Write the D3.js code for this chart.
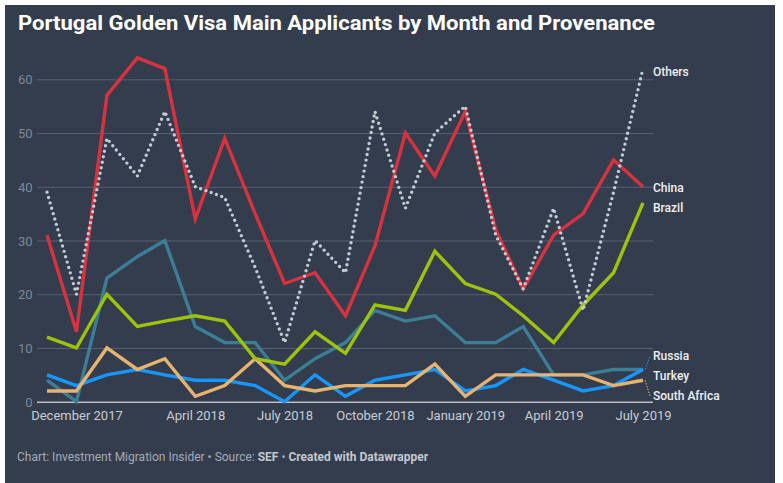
<!DOCTYPE html>
<html>
<head>
<meta charset="utf-8">
<script src="https://cdn.jsdelivr.net/npm/d3@7"></script>
<style>
  html, body { margin: 0; padding: 0; background: #ffffff; }
  svg { display: block; font-family: Roboto, "Noto Sans", sans-serif; }
</style>
</head>
<body>
<svg id="chart" width="783" height="483"></svg>
<script>
// ---------- data ----------
const months = ["2017-11","2017-12","2018-01","2018-02","2018-03","2018-04","2018-05","2018-06","2018-07","2018-08","2018-09","2018-10","2018-11","2018-12","2019-01","2019-02","2019-03","2019-04","2019-05","2019-06","2019-07"];
const seriesNames = ["Turkey","Russia","South Africa","Brazil","China","Others"];
const turkey      = [4,0,23,27,30,14,11,11,4,8,11,17,15,16,11,11,14,5,5,6,6];
const russia      = [5,3,5,6,5,4,4,3,0,5,1,4,5,6,2,3,6,4,2,3,6];
const southAfrica = [2,2,10,6,8,1,3,8,3,2,3,3,3,7,1,5,5,5,5,3,4];
const brazil      = [12,10,20,14,15,16,15,8,7,13,9,18,17,28,22,20,16,11,18,24,37];
const china       = [31,13,57,64,62,34,49,35,22,24,16,29,50,42,54,32,21,31,35,45,40];
const others      = [39,20,49,42,54,40,38,25,11,30,24,54,36,50,55,31,21,36,17,39,62];
const yTicks = [0,10,20,30,40,50,60];
const xTickLabels = ["December 2017","April 2018","July 2018","October 2018","January 2019","April 2019","July 2019"];
const title = "Portugal Golden Visa Main Applicants by Month and Provenance";

// ---------- styles ----------
const colors = {
  "Turkey": "#3b7e95",
  "Russia": "#1896fb",
  "South Africa": "#e6b470",
  "Brazil": "#9ec30b",
  "China": "#d8323f",
  "Others": "#c3ccd4"
};
const values = {
  "Turkey": turkey, "Russia": russia, "South Africa": southAfrica,
  "Brazil": brazil, "China": china, "Others": others
};

const svg = d3.select("#chart");
svg.append("rect").attr("x",5).attr("y",5).attr("width",770).attr("height",478).attr("fill","#333d4e");

const parseMonth = d3.timeParse("%Y-%m");
const parseLabel = d3.timeParse("%B %Y");
const dates = months.map(parseMonth);

const x = d3.scaleTime().domain(d3.extent(dates)).range([47,643]);
const y = d3.scaleLinear().domain([0,60]).range([401.7,79.3]);

// title
const t = svg.append("text").attr("x",18).attr("y",30)
  .attr("fill","#ffffff").attr("font-size",20.5).attr("font-weight",700)
  .text(title);
t.attr("textLength",637).attr("lengthAdjust","spacingAndGlyphs");

// grid + y labels
const gridLeft = 37, gridRight = 653;
const yAxis = d3.axisLeft(y).tickValues(yTicks).tickSize(-(gridRight-gridLeft)).tickPadding(4);
const gy = svg.append("g").attr("transform",`translate(${gridLeft},0)`).call(yAxis);
gy.select(".domain").remove();
gy.selectAll(".tick line").attr("stroke",d => d===0 ? "#ffffff" : "#586171").attr("stroke-width",1);
gy.selectAll(".tick text").attr("fill","#7f8896").attr("font-size",13).attr("font-family","Roboto").attr("x",-4.5).attr("dy","0.35em");

// x labels
const xAxis = d3.axisBottom(x).tickValues(xTickLabels.map(parseLabel)).tickSize(0).tickFormat(d3.timeFormat("%B %Y"));
const gx = svg.append("g").attr("transform",`translate(0,${y(0)})`).call(xAxis);
gx.select(".domain").remove();
gx.selectAll(".tick text").attr("fill","#c9cdd4").attr("font-size",13).attr("font-family","Roboto").attr("y",18.5).attr("dy",0);

// lines
const line = d3.line().x((d,i)=>x(dates[i])).y(d=>y(d));
seriesNames.forEach(name => {
  const p = svg.append("path").datum(values[name]).attr("d",line)
    .attr("fill","none").attr("stroke",colors[name]);
  if (name === "Others") {
    p.attr("stroke-width",3.4).attr("stroke-dasharray","0 5.6").attr("stroke-linecap","round");
  } else {
    p.attr("stroke-width",3.4).attr("stroke-linejoin","miter");
  }
});

// labels with simple overlap resolution
const last = dates.length-1;
const labelOrder = ["Others","China","Brazil","Russia","Turkey","South Africa"];
let labs = labelOrder.map(n => ({name:n, endY:y(values[n][last]), ly:y(values[n][last])+3}));
labs.sort((a,b)=>a.ly-b.ly);
const gap = 20;
let groups = labs.map(l=>({items:[l], center:l.ly}));
let changed = true;
while (changed) {
  changed = false;
  for (let i=0;i<groups.length-1;i++) {
    const a = groups[i], b = groups[i+1];
    const aBottom = a.center + (a.items.length-1)*gap/2;
    const bTop = b.center - (b.items.length-1)*gap/2;
    if (bTop - aBottom < gap) {
      const items = a.items.concat(b.items);
      const center = d3.mean(items, d=>d.ly);
      groups.splice(i,2,{items, center});
      changed = true; break;
    }
  }
}
groups.forEach(g => g.items.forEach((it,k) => { it.fy = g.center + (k-(g.items.length-1)/2)*gap; }));

const lx = 653;
labs.forEach(l => {
  if (Math.abs(l.fy - l.endY) > 8) {
    svg.append("line").attr("x1",x(dates[last])+2).attr("y1",l.endY)
      .attr("x2",lx-3).attr("y2",l.fy)
      .attr("stroke",colors[l.name]).attr("stroke-width",1).attr("stroke-dasharray","1.5 1.5");
  }
  svg.append("text").attr("x",lx).attr("y",l.fy).attr("dy","0.35em")
    .attr("fill","#eef0f3").attr("font-size",12).attr("font-weight",500).text(l.name);
});

// footer
const f = svg.append("text").attr("x",17).attr("y",461).attr("font-size",12).attr("fill","#a4abb5");
f.append("tspan").text("Chart: Investment Migration Insider • Source: ");
f.append("tspan").attr("font-weight",700).attr("fill","#c3c8cf").text("SEF");
f.append("tspan").text(" • ");
f.append("tspan").attr("font-weight",700).attr("fill","#c3c8cf").text("Created with Datawrapper");
</script>
</body>
</html>
